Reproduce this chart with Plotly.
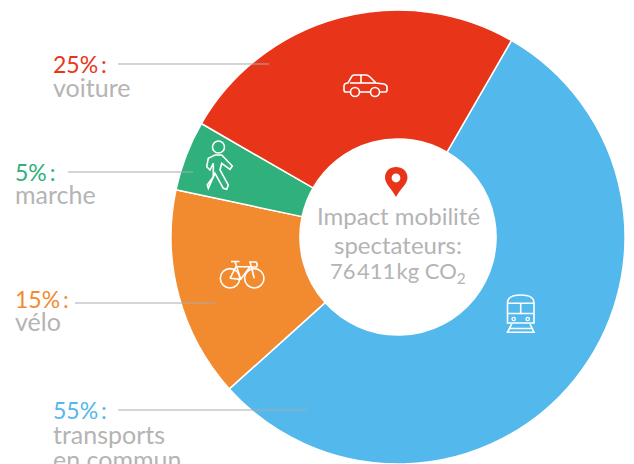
import re
import plotly.graph_objects as go

W, H = 634, 464
modes = ["transports en commun", "vélo", "marche", "voiture"]
shares = [55, 15, 5, 25]
colors = ["#53b8ec", "#f28b30", "#30b07a", "#e8351a"]
name_lines = [["transports", "en commun"], ["vélo"], ["marche"], ["voiture"]]
center_lines = ["Impact mobilité", "spectateurs:", "76\u200a411\u200akg CO<sub>2</sub>"]
center_sizes = [24, 24, 22]

FONT = "Lato"
GREY = "#b4b4b4"


def px(x):
    return x / W


def py(y):
    return 1 - y / H


def path(d):
    toks = re.findall(r"[A-Za-z]|-?[\d.]+", d)
    out, isx = [], True
    for t in toks:
        if t.isalpha():
            out.append(t)
            isx = True
        else:
            out.append(f"{px(float(t)):.5f}" if isx else f"{py(float(t)):.5f}")
            isx = not isx
    return " ".join(out)


def circle(cx, cy, r):
    k = 0.5523 * r
    return (f"M{cx-r} {cy} C{cx-r} {cy-k} {cx-k} {cy-r} {cx} {cy-r} "
            f"C{cx+k} {cy-r} {cx+r} {cy-k} {cx+r} {cy} "
            f"C{cx+r} {cy+k} {cx+k} {cy+r} {cx} {cy+r} "
            f"C{cx-k} {cy+r} {cx-r} {cy+k} {cx-r} {cy} Z")


fig = go.Figure(go.Pie(
    labels=modes, values=shares, hole=0.432, sort=False, direction="clockwise",
    rotation=30, textinfo="none", hoverinfo="skip", showlegend=False,
    marker=dict(colors=colors, line=dict(color="white", width=1.5)),
    domain=dict(x=[171 / W, 625 / W], y=[0, (H - 10) / H]),
))

shapes = []


def stroke(d, w=1.6, color="white"):
    shapes.append(dict(type="path", xref="paper", yref="paper", path=path(d),
                       line=dict(color=color, width=w), layer="above"))


def fill(d, color):
    shapes.append(dict(type="path", xref="paper", yref="paper", path=path(d),
                       fillcolor=color, line=dict(width=0), layer="above"))


# leader lines
for x0, x1, y in [(118, 269, 64), (68, 193, 172), (75, 215, 303), (118, 307, 410)]:
    stroke(f"M{x0} {y} L{x1} {y}", 1, "#ababab")

# car
stroke("M350 92 L346 92 Q344 92 344 90 L344 86 Q344 83 348 83 L352 76 Q353 75 355 75 "
       "L366 75 Q368 75 370 77 L376 83 L384 84 Q387 85 387 87 L387 90 Q387 92 385 92 L380 92")
stroke("M360 92 L370 92")
stroke("M350 83 L376 83")
stroke("M361 75 L361 83")
stroke(circle(355, 92, 4.5))
stroke(circle(375, 92, 4.5))

# walker
stroke(circle(218.5, 147, 6))
stroke("M215 155 L221.7 155 L232.3 166 L230 169.3 L221.7 163.3 L220 170 L228.3 185 "
       "L226.7 189.3 L223.3 188.3 L215 173.3 L208.3 188.3 L207.3 185 L213.3 176.7 "
       "L213.3 163.3 L210 170 L206.7 166.7 L208.3 158.3 Z")

# bicycle
stroke(circle(230, 278.3, 9.7))
stroke(circle(254.3, 278.3, 9.7))
stroke("M230 278.3 L240.7 279.3 L250 266.7 L236 266.7 L230 278.3")
stroke("M231 261.5 L239.5 261.5 M235 261.5 L240.7 279.3")
stroke("M254.3 278.3 L250 262 L256 262 Q258 264 256.5 267 L252 267")

# train
stroke("M507.5 323 L507.5 303 Q507.5 295 520.7 295 Q534 295 534 303 L534 323 Z")
stroke("M507.5 303.3 L534 303.3 M507.5 313.5 L534 313.5 M520.7 303.3 L520.7 313.5")
stroke(circle(513.7, 319, 1.7), 1.3)
stroke(circle(527.7, 319, 1.7), 1.3)
stroke("M511.7 324 L507.5 332.3 L534 332.3 L530 324 M509.5 328.5 L532 328.5")

# pin
fill("M396 197 C392 189 385 184 385 177.7 C385 171 390 167 396 167 "
     "C402 167 407.5 171 407.5 177.7 C407.5 184 400 189 396 197 Z", colors[3])
fill(circle(396, 178, 4.4), "white")

fig.update_layout(shapes=shapes)

# labels
pct_pos = [(51, 410), (13, 299), (13, 172), (51, 64)]
name_ys = [[434, 459], [321], [194], [87]]
for share, col, (x, y), lines, ys in zip(shares, colors, pct_pos, name_lines, name_ys):
    fig.add_annotation(x=px(x), y=py(y), xref="paper", yref="paper", xanchor="left",
                       yanchor="middle", showarrow=False, text=f"{share}%\u2009:",
                       font=dict(family=FONT, size=23, color=col))
    for line, ly in zip(lines, ys):
        fig.add_annotation(x=px(x), y=py(ly), xref="paper", yref="paper", xanchor="left",
                           yanchor="middle", showarrow=False, text=line,
                           font=dict(family=FONT, size=25, color=GREY))

for line, ly, sz in zip(center_lines, [215, 244, 272], center_sizes):
    fig.add_annotation(x=px(398), y=py(ly), xref="paper", yref="paper", xanchor="center",
                       yanchor="middle", showarrow=False, text=line,
                       font=dict(family=FONT, size=sz, color=GREY))

fig.update_layout(width=W, height=H, margin=dict(l=0, r=0, t=0, b=0),
                  paper_bgcolor="white", plot_bgcolor="white")
fig.write_html("out.html", config={"displayModeBar": False},
               post_script="document.body.style.margin='0';document.body.style.overflow='hidden';")
